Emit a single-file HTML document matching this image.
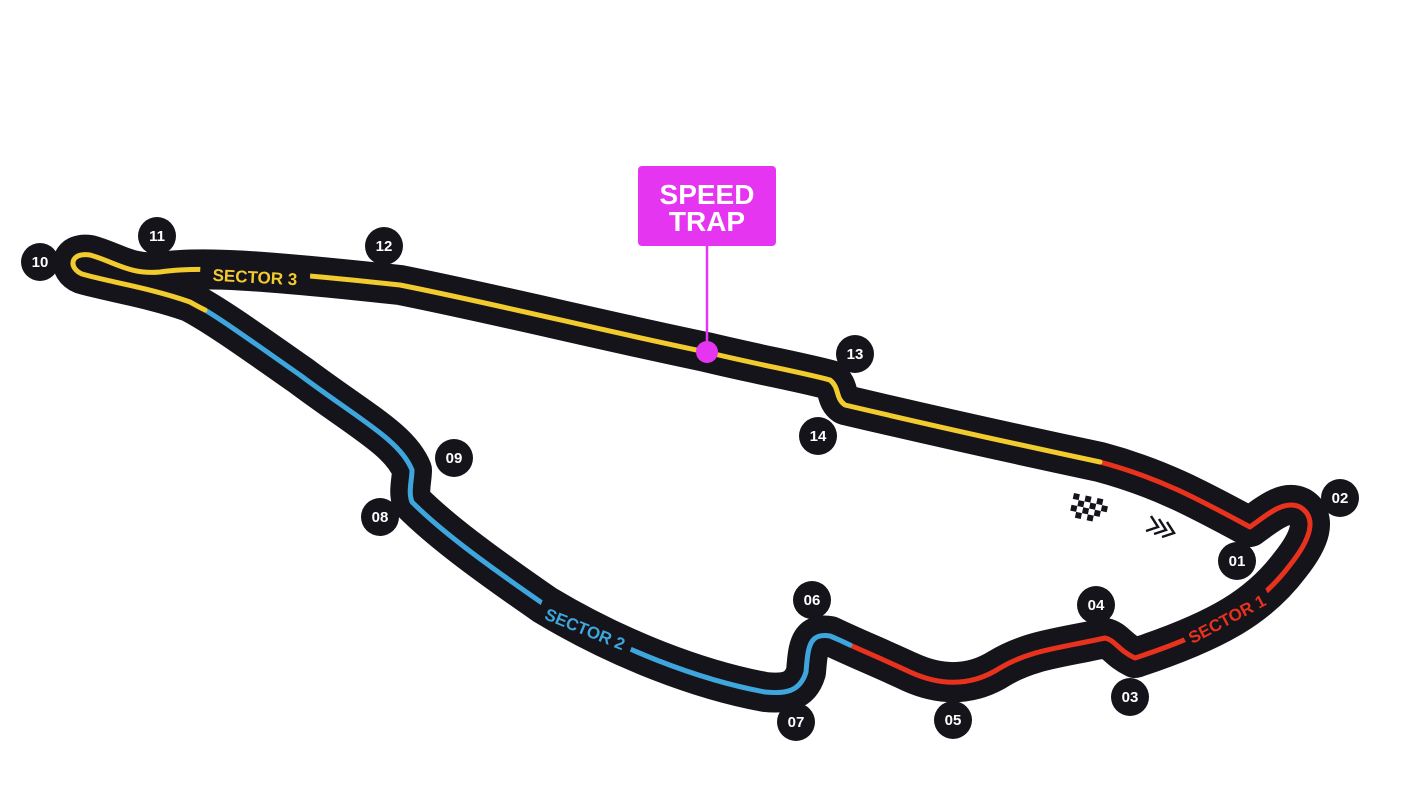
<!DOCTYPE html>
<html><head><meta charset="utf-8"><style>
html,body{margin:0;padding:0;background:#fff;width:1406px;height:806px;overflow:hidden}
svg{display:block}
.n text{font-family:"Liberation Sans",sans-serif;font-weight:bold;font-size:15px;fill:#fff;text-anchor:middle}
.lbl{font-family:"Liberation Sans",sans-serif;font-weight:bold;font-size:17px}
</style></head><body>
<svg width="1406" height="806" viewBox="0 0 1406 806">
<g fill="none" stroke-linecap="round" stroke-linejoin="round">
<path id="trk" stroke="#15141b" stroke-width="40" d="M1100,462 C1160,478 1200,500 1250,527 C1270,512 1285,500 1300,507 C1318,518 1310,540 1290,565 C1260,605 1220,630 1135,658 C1118,650 1115,640 1105,638 C1060,648 1030,650 1000,668 C975,684 945,688 910,672 C880,658 855,648 830,636 C808,632 808,650 806,672 C800,692 785,694 765,692 C700,680 620,650 545,605 C480,560 440,530 412,502 C408,492 412,480 412,470 C400,440 360,420 300,375 C250,340 215,315 190,302 C150,288 110,282 82,274 C68,268 70,252 90,255 C115,262 130,275 160,272 C200,266 260,270 400,285 C500,305 600,330 706,352 C760,365 800,372 830,380 C840,388 835,398 845,405 C930,425 1020,445 1100,462 Z"/>
<path stroke="#e8321e" stroke-width="5" d="M1100,462 C1160,478 1200,500 1250,527 C1270,512 1285,500 1300,507 C1318,518 1310,540 1290,565 C1260,605 1220,630 1135,658 C1118,650 1115,640 1105,638 C1060,648 1030,650 1000,668 C975,684 945,688 910,672 C880,658 870,654 850,645"/>
<path stroke="#3ea6dc" stroke-width="5" d="M850,645 C840,640 835,638 830,636 C808,632 808,650 806,672 C800,692 785,694 765,692 C700,680 620,650 545,605 C480,560 440,530 412,502 C408,492 412,480 412,470 C400,440 360,420 300,375 C250,340 225,322 205,310"/>
<path stroke="#f2cb2e" stroke-width="5" d="M205,310 C195,305 192,303 190,302 C150,288 110,282 82,274 C68,268 70,252 90,255 C115,262 130,275 160,272 C200,266 260,270 400,285 C500,305 600,330 706,352 C760,365 800,372 830,380 C840,388 835,398 845,405 C930,425 1020,445 1100,462"/>
</g>
<rect x="200" y="264" width="110" height="24" fill="#15141b" transform="rotate(3 255 276)"/>
<text class="lbl" x="255" y="283" fill="#f2cb2e" text-anchor="middle" transform="rotate(3 255 276)">SECTOR 3</text>
<rect x="535" y="618" width="100" height="22" fill="#15141b" transform="rotate(22 585 629)"/>
<text class="lbl" x="585" y="635" fill="#3ea6dc" text-anchor="middle" transform="rotate(22 585 629)">SECTOR 2</text>
<rect x="1180" y="608" width="95" height="22" fill="#15141b" transform="rotate(-28 1227 619)"/>
<text class="lbl" x="1227" y="625" fill="#e8321e" text-anchor="middle" transform="rotate(-28 1227 619)">SECTOR 1</text>
<g fill="#15141b" transform="translate(1074,493) rotate(12)">
<rect x="0" y="0" width="6" height="6"/><rect x="12" y="0" width="6" height="6"/><rect x="24" y="0" width="6" height="6"/>
<rect x="6" y="6" width="6" height="6"/><rect x="18" y="6" width="6" height="6"/><rect x="30" y="6" width="6" height="6"/>
<rect x="0" y="12" width="6" height="6"/><rect x="12" y="12" width="6" height="6"/><rect x="24" y="12" width="6" height="6"/>
<rect x="6" y="18" width="6" height="6"/><rect x="18" y="18" width="6" height="6"/>
</g>
<g fill="none" stroke="#15141b" stroke-width="2.5"><path d="M1151,516 L1158,527 L1146,531"/><path d="M1159,519 L1166,530 L1154,534"/><path d="M1167,522 L1174,533 L1162,537"/></g>
<rect x="638" y="166" width="138" height="80" rx="4" fill="#e535f0"/>
<text x="707" y="204" fill="#fff" font-family="Liberation Sans,sans-serif" font-weight="bold" font-size="28" text-anchor="middle">SPEED</text>
<text x="707" y="231" fill="#fff" font-family="Liberation Sans,sans-serif" font-weight="bold" font-size="28" text-anchor="middle">TRAP</text>
<line x1="707" y1="246" x2="707" y2="352" stroke="#e535f0" stroke-width="2.5"/>
<circle cx="707" cy="352" r="11" fill="#e535f0"/>
<g class="n" fill="#15141b">
<circle cx="40" cy="262" r="19"/><text x="40" y="267">10</text>
<circle cx="157" cy="236" r="19"/><text x="157" y="241">11</text>
<circle cx="384" cy="246" r="19"/><text x="384" y="251">12</text>
<circle cx="855" cy="354" r="19"/><text x="855" y="359">13</text>
<circle cx="818" cy="436" r="19"/><text x="818" y="441">14</text>
<circle cx="454" cy="458" r="19"/><text x="454" y="463">09</text>
<circle cx="380" cy="517" r="19"/><text x="380" y="522">08</text>
<circle cx="812" cy="600" r="19"/><text x="812" y="605">06</text>
<circle cx="796" cy="722" r="19"/><text x="796" y="727">07</text>
<circle cx="953" cy="720" r="19"/><text x="953" y="725">05</text>
<circle cx="1096" cy="605" r="19"/><text x="1096" y="610">04</text>
<circle cx="1130" cy="697" r="19"/><text x="1130" y="702">03</text>
<circle cx="1237" cy="561" r="19"/><text x="1237" y="566">01</text>
<circle cx="1340" cy="498" r="19"/><text x="1340" y="503">02</text>
</g>
</svg>
</body></html>
